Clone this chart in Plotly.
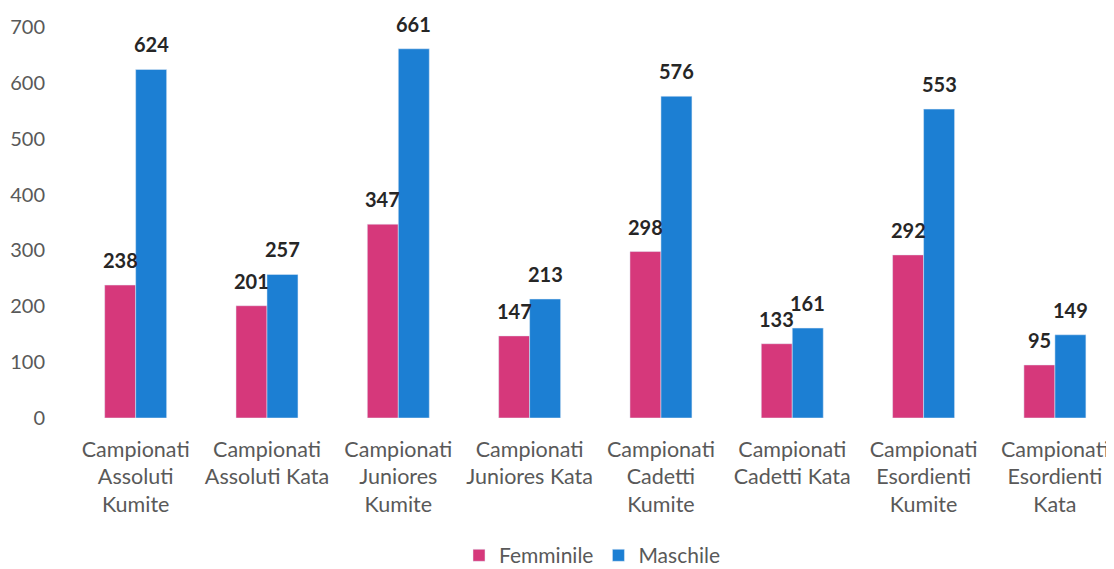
import plotly.graph_objects as go

categories = [
    "Campionati<br>Assoluti<br>Kumite",
    "Campionati<br>Assoluti Kata",
    "Campionati<br>Juniores<br>Kumite",
    "Campionati<br>Juniores Kata",
    "Campionati<br>Cadetti<br>Kumite",
    "Campionati<br>Cadetti Kata",
    "Campionati<br>Esordienti<br>Kumite",
    "Campionati<br>Esordienti<br>Kata",
]
femminile = [238, 201, 347, 147, 298, 133, 292, 95]
maschile = [624, 257, 661, 213, 576, 161, 553, 149]
y_ticks = [0, 100, 200, 300, 400, 500, 600, 700]

PINK = "#D6387B"
BLUE = "#1C7FD3"
GRAY = "#595959"
FONT = "Lato"

fig = go.Figure()
fig.add_trace(go.Bar(name="Femminile", x=categories, y=femminile, marker_color=PINK))
fig.add_trace(go.Bar(name="Maschile", x=categories, y=maschile, marker_color=BLUE))

annotations = []
for cat, f, m in zip(categories, femminile, maschile):
    annotations.append(dict(x=cat, y=f, xref="x", yref="y", text=str(f), showarrow=False,
                            xshift=-15.5, yshift=11, yanchor="bottom",
                            font=dict(family=FONT, size=20, color="#262626", weight="bold")))
    annotations.append(dict(x=cat, y=m, xref="x", yref="y", text=str(m), showarrow=False,
                            xshift=15.5, yshift=11, yanchor="bottom",
                            font=dict(family=FONT, size=20, color="#262626", weight="bold")))

fig.update_layout(
    width=1106, height=561,
    margin=dict(l=62, r=0, t=19, b=151, autoexpand=False),
    paper_bgcolor="white", plot_bgcolor="white",
    barmode="group", bargap=0.528, bargroupgap=0,
    font=dict(family=FONT, size=20, color=GRAY),
    showlegend=True,
    legend=dict(orientation="h", x=0.5, xanchor="center", y=-0.352,
                yanchor="middle", font=dict(family=FONT, size=21, color=GRAY),
                traceorder="normal"),
    annotations=annotations,
)
fig.update_xaxes(range=[-0.5, 7.45], showgrid=False, showline=False, ticks="",
                 automargin=False, ticklabelstandoff=16,
                 tickfont=dict(family=FONT, size=21.5, color=GRAY))
fig.update_yaxes(range=[0, 700], tickvals=y_ticks, showgrid=False, showline=False,
                 zeroline=False, ticks="", automargin=False, ticklabelstandoff=24,
                 tickfont=dict(family=FONT, size=20, color=GRAY))

fig.write_html("out.html")
